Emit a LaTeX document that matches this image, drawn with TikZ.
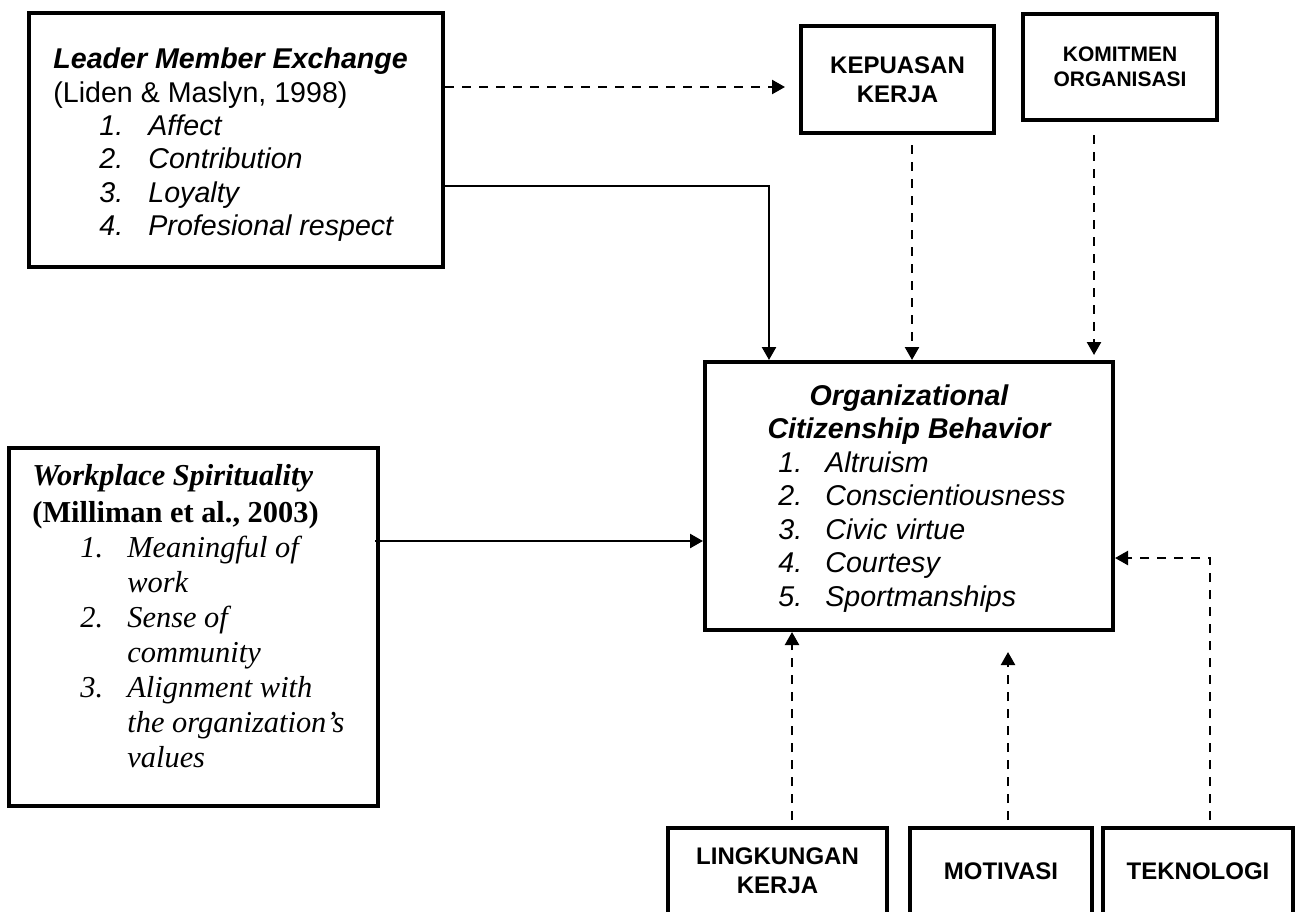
\documentclass[tikz,border=0pt]{standalone}
\usepackage{fontspec}
\setmainfont{Liberation Sans}
\newfontfamily\tnr{Liberation Serif}
\usetikzlibrary{arrows.meta}
\newcommand{\arf}{\fontsize{14.3}{17}\selectfont}
\newcommand{\tmf}{\tnr\fontsize{15.2}{17.5}\selectfont}
\begin{document}
\begin{tikzpicture}[x=0.5pt,y=-0.5pt,
  box/.style={draw, line width=2pt, inner sep=0pt},
  lab/.style={inner sep=0pt, anchor=base west},
  clab/.style={inner sep=0pt, anchor=base},
  arr/.style={line width=1.2pt, -{Triangle[length=6.5pt,width=7pt]}},
  darr/.style={arr, dash pattern=on 4.5pt off 4pt},
  smallbox/.style={box, align=center, font=\fontsize{12}{14.5}\selectfont\bfseries}]
\useasboundingbox (0,0) rectangle (1304,911);
\clip (0,0) rectangle (1304,911);
\fill[white] (0,0) rectangle (1304,911);

% Leader Member Exchange
\node[box, minimum width=207pt, minimum height=127pt] (lmx) at (236,140) {};
\node[lab, font=\arf\bfseries\itshape] (lmxt) at (53,68) {Leader Member Exchange};
\node[lab, font=\arf] (lmxc) at (53,102) {(Liden \& Maslyn, 1998)};
\foreach \i/\y/\t in {1/135/Affect, 2/168.5/Contribution, 3/202/Loyalty, 4/235.5/Profesional respect}{
  \node[lab, font=\arf\itshape] (lmxn\i) at (99,\y) {\i.};
  \node[lab, font=\arf\itshape] (lmxi\i) at (148,\y) {\t};
}

% small top boxes
\node[smallbox, minimum width=96.5pt, minimum height=53.5pt] (kep) at (897.5,79.5) {KEPUASAN\\KERJA};
\node[box, align=center, font=\fontsize{10.5}{12.5}\selectfont\bfseries, minimum width=97pt, minimum height=53pt] (kom) at (1120,67) {KOMITMEN\\ORGANISASI};

% OCB
\node[box, minimum width=204pt, minimum height=134pt] (ocb) at (909,496) {};
\node[clab, font=\arf\bfseries\itshape] (ocbt1) at (909,405) {Organizational};
\node[clab, font=\arf\bfseries\itshape] (ocbt2) at (909,438.5) {Citizenship Behavior};
\foreach \i/\y/\t in {1/472/Altruism, 2/505.5/Conscientiousness, 3/539/Civic virtue, 4/572.5/Courtesy, 5/606/Sportmanships}{
  \node[lab, font=\arf\itshape] (ocbn\i) at (778,\y) {\i.};
  \node[lab, font=\arf\itshape] (ocbi\i) at (825,\y) {\t};
}

% Workplace Spirituality
\node[box, minimum width=184.5pt, minimum height=179pt] (ws) at (193.5,627) {};
\node[lab, font=\tmf\bfseries\itshape] (wst) at (32,485) {Workplace Spirituality};
\node[lab, font=\tmf\bfseries] (wsc) at (32,522) {(Milliman et al., 2003)};
\node[lab, font=\tmf\itshape] (wsn1) at (80,557) {1.};
\node[lab, font=\tmf\itshape] (wsi1a) at (127,557) {Meaningful of};
\node[lab, font=\tmf\itshape] (wsi1b) at (127,592) {work};
\node[lab, font=\tmf\itshape] (wsn2) at (80,627) {2.};
\node[lab, font=\tmf\itshape] (wsi2a) at (127,627) {Sense of};
\node[lab, font=\tmf\itshape] (wsi2b) at (127,662) {community};
\node[lab, font=\tmf\itshape] (wsn3) at (80,697) {3.};
\node[lab, font=\tmf\itshape] (wsi3a) at (127,697) {Alignment with};
\node[lab, font=\tmf\itshape] (wsi3b) at (127,732) {the organization’s};
\node[lab, font=\tmf\itshape] (wsi3c) at (127,767) {values};

% bottom boxes
\node[smallbox, minimum width=109.5pt, minimum height=43pt] (ling) at (777.5,871) {LINGKUNGAN\\KERJA};
\node[smallbox, minimum width=91pt, minimum height=43pt] (mot) at (1001,871) {MOTIVASI};
\node[smallbox, minimum width=95pt, minimum height=43pt] (tek) at (1198,871) {TEKNOLOGI};

% connectors
\draw[darr, shorten >=7pt] (lmx.east |- 0,87) -- (kep.west |- 0,87);
\draw[arr] (lmx.east |- 0,186) -| (ocb.north -| 769,0);
\draw[darr, shorten <=5pt] (kep.south -| 912,0) -- (ocb.north -| 912,0);
\draw[darr, shorten <=6.5pt, shorten >=2.5pt] (kom.south -| 1094,0) -- (ocb.north -| 1094,0);
\draw[arr, shorten <=-2.5pt] (ws.east |- 0,541) -- (ocb.west |- 0,541);
\draw[darr, shorten <=3pt] (ling.north -| 792,0) -- (ocb.south -| 792,0);
\draw[darr, shorten <=3pt, shorten >=10pt] (mot.north -| 1008,0) -- (ocb.south -| 1008,0);
\draw[darr, shorten <=3pt] (tek.north -| 1210,0) |- (ocb.east |- 0,558);
\end{tikzpicture}
\end{document}
